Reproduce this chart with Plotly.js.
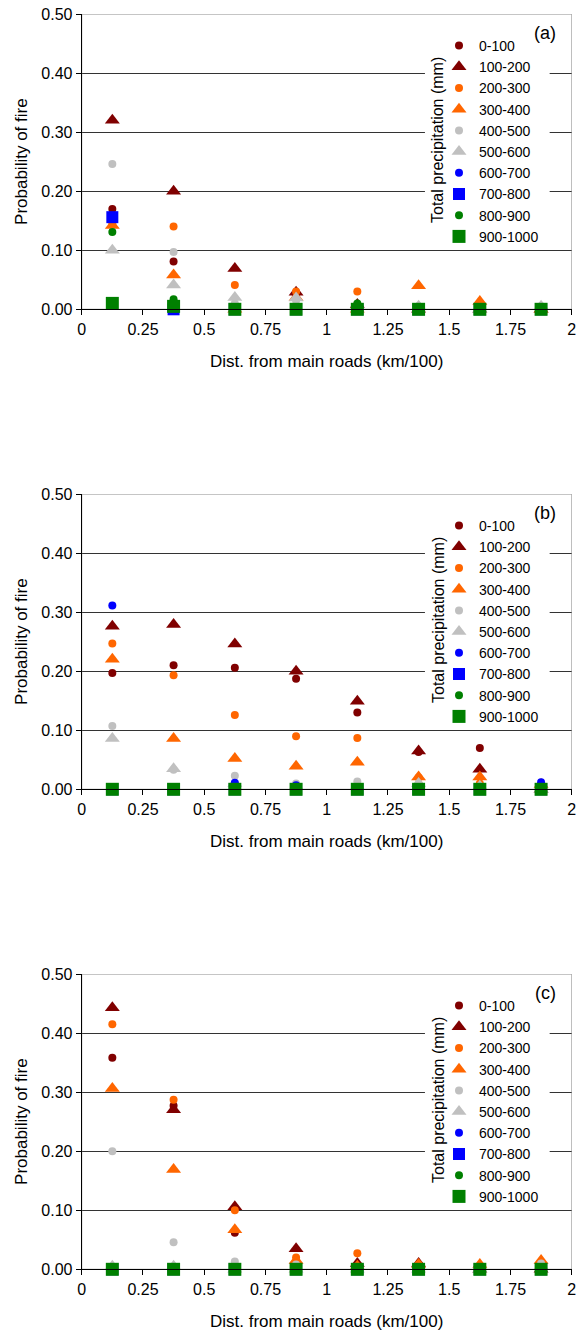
<!DOCTYPE html>
<html>
<head>
<meta charset="utf-8">
<script src="https://cdn.plot.ly/plotly-3.0.1.min.js"></script>
<style>html,body{margin:0;padding:0;background:#fff;}#chart{width:580px;height:1334px;}</style>
</head>
<body>
<div id="chart"></div>
<script>
// ---------- DATA ----------
const dist = [0.125, 0.375, 0.625, 0.875, 1.125, 1.375, 1.625, 1.875];
const seriesNames = ['0-100','100-200','200-300','300-400','400-500','500-600','600-700','700-800','800-900','900-1000'];
const xTickVals = [0, 0.25, 0.5, 0.75, 1, 1.25, 1.5, 1.75, 2];
const xTickText = ['0', '0.25', '0.5', '0.75', '1', '1.25', '1.5', '1.75', '2'];
const yTickVals = [0, 0.1, 0.2, 0.3, 0.4, 0.5];
const yTickText = ['0.00', '0.10', '0.20', '0.30', '0.40', '0.50'];
const panelLabels = ['(a)', '(b)', '(c)'];

// Panel (a)
const a_0_100    = [0.170, 0.081, 0.000, 0.025, 0.005, 0.000, 0.000, 0.000];
const a_100_200  = [0.320, 0.200, 0.069, 0.029, 0.008, 0.000, 0.000, 0.000];
const a_200_300  = [0.145, 0.140, 0.041, 0.030, 0.030, 0.000, 0.000, 0.000];
const a_300_400  = [0.142, 0.058, 0.000, 0.020, 0.000, 0.040, 0.013, 0.000];
const a_400_500  = [0.246, 0.097, 0.010, 0.015, 0.005, 0.005, 0.000, 0.005];
const a_500_600  = [0.100, 0.041, 0.020, 0.019, 0.005, 0.005, 0.000, 0.005];
const a_600_700  = [0.010, 0.000, 0.000, 0.000, 0.000, 0.000, 0.000, 0.000];
const a_700_800  = [0.156, 0.000, 0.000, 0.000, 0.000, 0.000, 0.000, 0.000];
const a_800_900  = [0.131, 0.017, 0.000, 0.000, 0.010, 0.000, 0.000, 0.000];
const a_900_1000 = [0.010, 0.005, 0.000, 0.000, 0.000, 0.000, 0.000, 0.000];

// Panel (b)
const b_0_100    = [0.197, 0.210, 0.206, 0.187, 0.130, 0.063, 0.070, 0.000];
const b_100_200  = [0.276, 0.279, 0.246, 0.200, 0.149, 0.065, 0.034, 0.000];
const b_200_300  = [0.247, 0.193, 0.126, 0.090, 0.087, 0.020, 0.010, 0.005];
const b_300_400  = [0.220, 0.086, 0.052, 0.039, 0.046, 0.021, 0.021, 0.008];
const b_400_500  = [0.107, 0.033, 0.023, 0.010, 0.013, 0.010, 0.005, 0.000];
const b_500_600  = [0.086, 0.035, 0.010, 0.005, 0.005, 0.010, 0.005, 0.000];
const b_600_700  = [0.311, 0.000, 0.011, 0.007, 0.000, 0.000, 0.000, 0.012];
const b_700_800  = [0.000, 0.000, 0.000, 0.000, 0.000, 0.000, 0.000, 0.000];
const b_800_900  = [0.000, 0.000, 0.000, 0.000, 0.000, 0.000, 0.000, 0.000];
const b_900_1000 = [0.000, 0.000, 0.000, 0.000, 0.000, 0.000, 0.000, 0.000];

// Panel (c)
const c_0_100    = [0.358, 0.277, 0.062, 0.010, 0.005, 0.000, 0.000, 0.000];
const c_100_200  = [0.443, 0.270, 0.106, 0.035, 0.010, 0.010, 0.000, 0.000];
const c_200_300  = [0.415, 0.287, 0.100, 0.020, 0.027, 0.008, 0.000, 0.005];
const c_300_400  = [0.306, 0.169, 0.067, 0.015, 0.005, 0.008, 0.008, 0.015];
const c_400_500  = [0.200, 0.046, 0.013, 0.008, 0.000, 0.000, 0.000, 0.010];
const c_500_600  = [0.005, 0.005, 0.000, 0.000, 0.000, 0.000, 0.000, 0.005];
const c_600_700  = [0.000, 0.000, 0.000, 0.000, 0.000, 0.000, 0.000, 0.000];
const c_700_800  = [0.000, 0.000, 0.000, 0.000, 0.000, 0.000, 0.000, 0.000];
const c_800_900  = [0.000, 0.000, 0.000, 0.000, 0.000, 0.000, 0.000, 0.000];
const c_900_1000 = [0.000, 0.000, 0.000, 0.000, 0.000, 0.000, 0.000, 0.000];

const panelData = [
  [a_0_100, a_100_200, a_200_300, a_300_400, a_400_500, a_500_600, a_600_700, a_700_800, a_800_900, a_900_1000],
  [b_0_100, b_100_200, b_200_300, b_300_400, b_400_500, b_500_600, b_600_700, b_700_800, b_800_900, b_900_1000],
  [c_0_100, c_100_200, c_200_300, c_300_400, c_400_500, c_500_600, c_600_700, c_700_800, c_800_900, c_900_1000]
];

// ---------- STYLE ----------
const styles = [
  {symbol:'circle', color:'#800000', size:8},
  {symbol:'triangle-up', color:'#800000', size:13},
  {symbol:'circle', color:'#FF6600', size:8},
  {symbol:'triangle-up', color:'#FF6600', size:13},
  {symbol:'circle', color:'#C0C0C0', size:8},
  {symbol:'triangle-up', color:'#C0C0C0', size:13},
  {symbol:'circle', color:'#0000FF', size:8},
  {symbol:'square', color:'#0000FF', size:12},
  {symbol:'circle', color:'#008000', size:8},
  {symbol:'square', color:'#008000', size:13}
];

const W = 580, H = 1334;
const FONT = 'Arial, "Liberation Sans", sans-serif';
const plotLeft = 81.7, plotRight = 571.7;
const panelTop0 = 14, panelBottom0 = 309.3, panelOffset = 480;
const px2py = y => 1 - y / H;

const traces = [];
const layout = {
  width: W, height: H,
  margin: {l:0, r:0, t:0, b:0},
  paper_bgcolor: '#fff', plot_bgcolor: '#fff',
  font: {family: FONT, size: 16, color: '#000'},
  showlegend: true,
  shapes: [], annotations: []
};

for (let p = 0; p < 3; p++) {
  const sfx = p === 0 ? '' : String(p + 1);
  const xa = 'x' + sfx, ya = 'y' + sfx;
  const legName = 'legend' + sfx;
  const off = p * panelOffset;
  const top = panelTop0 + off, bottom = panelBottom0 + off;

  panelData[p].forEach((vals, i) => {
    const s = styles[i];
    traces.push({
      type: 'scatter', mode: 'markers',
      x: dist, y: vals, name: seriesNames[i],
      xaxis: xa, yaxis: ya, legend: legName,
      cliponaxis: false,
      marker: {symbol: s.symbol, color: s.color, size: s.size, line: {width: 0}},
      hoverinfo: 'x+y+name'
    });
  });

  layout['xaxis' + sfx] = {
    domain: [plotLeft / W, plotRight / W], anchor: ya,
    range: [0, 2], tickvals: xTickVals, ticktext: xTickText,
    ticks: 'outside', ticklen: 5, tickcolor: '#000', tickwidth: 1,
    showline: true, linecolor: '#000', linewidth: 1,
    showgrid: false, zeroline: false,
    tickfont: {family: FONT, size: 16, color: '#000'},
    title: {text: 'Dist. from main roads (km/100)', font: {family: FONT, size: 17, color: '#000'}, standoff: 18},
    automargin: false, fixedrange: true
  };
  layout['yaxis' + sfx] = {
    domain: [px2py(bottom), px2py(top)], anchor: xa,
    range: [0, 0.5], tickvals: yTickVals, ticktext: yTickText,
    ticks: 'outside', ticklen: 5, tickcolor: '#000', tickwidth: 1,
    showline: true, linecolor: '#000', linewidth: 1,
    showgrid: true, gridcolor: '#333', gridwidth: 1, zeroline: false,
    tickfont: {family: FONT, size: 16, color: '#000'},
    title: {text: 'Probability of fire', font: {family: FONT, size: 17, color: '#000'}, standoff: 9},
    automargin: false, fixedrange: true
  };

  // plot-area border (grey top and right)
  layout.shapes.push({type:'rect', xref: xa, yref: ya, x0: 0, x1: 2, y0: 0, y1: 0.5,
    line: {color:'#8c8c8c', width: 1}, fillcolor: 'rgba(0,0,0,0)', layer: 'between'});
  // white legend backdrop that interrupts the gridlines
  layout.shapes.push({type:'rect', xref: xa, yref: ya, x0: 1.401, x1: 1.91, y0: 0.112, y1: 0.472,
    line: {width: 0}, fillcolor: '#fff', layer: 'between'});

  layout[legName] = {
    x: 439 / W, xanchor: 'left', y: px2py(30 + off), yanchor: 'top',
    bgcolor: 'rgba(0,0,0,0)', borderwidth: 0,
    font: {family: FONT, size: 14, color: '#000'},
    tracegroupgap: 0, itemclick: false, itemdoubleclick: false
  };

  layout.annotations.push({
    xref: 'paper', yref: 'paper', x: 545 / W, y: px2py(33 + off),
    text: panelLabels[p], showarrow: false, xanchor: 'center', yanchor: 'middle',
    font: {family: FONT, size: 18, color: '#000'}
  });
  layout.annotations.push({
    xref: 'paper', yref: 'paper', x: 438 / W, y: px2py(140 + off),
    text: 'Total precipitation (mm)', textangle: -90, showarrow: false,
    xanchor: 'center', yanchor: 'middle',
    font: {family: FONT, size: 16, color: '#000'}
  });
}

Plotly.newPlot('chart', traces, layout, {displayModeBar: false, staticPlot: true});
</script>
</body>
</html>
